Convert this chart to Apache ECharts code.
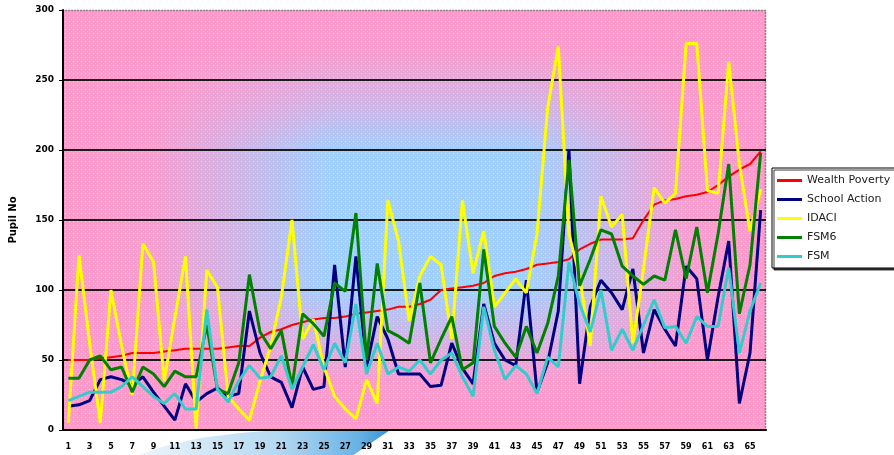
<!DOCTYPE html>
<html>
<head>
<meta charset="utf-8">
<script src="https://cdn.jsdelivr.net/npm/echarts@6/dist/echarts.min.js"></script>
<style>
html, body { margin: 0; padding: 0; background: #fff; }
#chart { width: 894px; height: 455px; }
</style>
</head>
<body>
<div id="chart"></div>
<script>
// Pupil numbers per school, ordered by the Wealth Poverty measure
const categories = [
  '1','2','3','4','5','6','7','8','9','10',
  '11','12','13','14','15','16','17','18','19','20',
  '21','22','23','24','25','26','27','28','29','30',
  '31','32','33','34','35','36','37','38','39','40',
  '41','42','43','44','45','46','47','48','49','50',
  '51','52','53','54','55','56','57','58','59','60',
  '61','62','63','64','65','66'
];

const wealthPoverty = [
  50, 50, 50, 51, 52, 53, 55, 55, 55, 56,
  57, 58, 58, 58, 58, 59, 60, 60, 66, 70,
  72, 75, 77, 79, 80, 80, 81, 83, 84, 85,
  86, 88, 88, 90, 93, 100, 101, 102, 103, 105,
  110, 112, 113, 115, 118, 119, 120, 122, 129, 133,
  136, 136, 136, 137, 150, 161, 164, 165, 167, 168,
  170, 175, 181, 186, 190, 199
];

const schoolAction = [
  17, 18, 21, 36, 38, 36, 32, 38, 27, 17,
  7, 33, 20, 26, 30, 24, 26, 85, 55, 38,
  34, 16, 45, 29, 31, 118, 45, 124, 45, 81,
  65, 40, 40, 40, 31, 32, 62, 44, 33, 90,
  62, 50, 46, 107, 27, 48, 85, 200, 33, 88,
  107, 98, 86, 115, 55, 86, 72, 60, 117, 108,
  50, 95, 135, 19, 55, 157
];

const idaci = [
  5, 125, 62, 5, 100, 60, 25, 133, 120, 35,
  80, 124, 1, 114, 102, 24, 15, 7, 35, 60,
  95, 150, 65, 79, 45, 24, 15, 8, 36, 19,
  164, 135, 78, 110, 124, 118, 65, 164, 112, 142,
  88, 98, 108, 98, 140, 230, 274, 140, 110, 60,
  167, 145, 154, 62, 115, 173, 162, 169, 276, 276,
  171, 169, 263, 190, 142, 172
];

const fsm6 = [
  37, 37, 50, 53, 43, 45, 27, 45, 40, 31,
  42, 38, 38, 75, 29, 26, 48, 111, 70, 58,
  71, 31, 83, 76, 67, 105, 99, 155, 50, 119,
  71, 67, 62, 105, 48, 65, 81, 43, 48, 129,
  74, 62, 52, 74, 55, 76, 110, 193, 103, 122,
  143, 140, 117, 110, 104, 110, 107, 143, 108, 145,
  98, 140, 190, 83, 118, 198
];

const fsm = [
  21, 24, 27, 27, 27, 31, 38, 31, 24, 19,
  26, 15, 15, 86, 29, 20, 35, 46, 37, 38,
  53, 29, 45, 61, 43, 62, 48, 90, 40, 62,
  40, 45, 42, 50, 40, 50, 55, 38, 24, 88,
  57, 36, 46, 40, 26, 52, 45, 120, 90, 70,
  100, 57, 72, 57, 75, 93, 73, 74, 62, 81,
  74, 74, 116, 55, 85, 105
];

const seriesNames = ['Wealth Poverty', 'School Action', 'IDACI', 'FSM6', 'FSM'];
const seriesData = [wealthPoverty, schoolAction, idaci, fsm6, fsm];
const seriesColors = ['#ff0000', '#000080', '#ffff00', '#008000', '#33cccc'];
const seriesWidths = [2, 3, 3, 3, 3];

const yMin = 0, yMax = 300, yStep = 50;

// plot area box
const PX = 62, PY = 10, PW = 704, PH = 420;

const chart = echarts.init(document.getElementById('chart'));

// fine dot texture laid over the fill
const dots = document.createElement('canvas');
dots.width = 4; dots.height = 4;
(function () {
  const c = dots.getContext('2d');
  c.fillStyle = 'rgba(255,255,255,0.45)';
  c.fillRect(1, 1, 1, 1);
  c.fillStyle = 'rgba(255,255,255,0.2)';
  c.fillRect(3, 3, 1, 1);
})();

function linear(x2, y2, stops) {
  return {
    type: 'linear', x: 0, y: 0, x2: x2, y2: y2, global: false,
    colorStops: stops.map(s => ({ offset: s[0], color: s[1] }))
  };
}
const pink = a => 'rgba(255,153,204,' + a + ')';
const plotRect = { x: PX, y: PY, width: PW, height: PH };

const option = {
  animation: false,
  grid: { left: PX, top: PY, width: PW, height: PH },
  xAxis: {
    type: 'category',
    data: categories,
    boundaryGap: true,
    axisLine: { lineStyle: { color: '#000', width: 2 } },
    axisTick: { interval: 0, length: 4, lineStyle: { color: '#000', width: 1 } },
    axisLabel: {
      interval: 1, margin: 13, fontSize: 8, fontWeight: 'bold',
      fontFamily: 'DejaVu Sans', color: '#000'
    },
    splitLine: { show: false }
  },
  yAxis: {
    type: 'value',
    min: yMin, max: yMax, interval: yStep,
    name: 'Pupil No',
    nameLocation: 'middle',
    nameRotate: 90,
    nameGap: 45,
    nameTextStyle: { fontSize: 10, fontWeight: 'bold', fontFamily: 'DejaVu Sans', color: '#000' },
    axisLine: { show: true, lineStyle: { color: '#000', width: 2 } },
    axisTick: { show: true, length: 4, lineStyle: { color: '#000', width: 1 } },
    axisLabel: { margin: 9, fontSize: 9, fontWeight: 'bold', fontFamily: 'DejaVu Sans', color: '#000' },
    splitLine: { showMaxLine: false, lineStyle: { color: '#1a1a1a', width: 2 } }
  },
  legend: {
    orient: 'vertical',
    left: 772, top: 168,
    icon: 'rect',
    itemWidth: 25, itemHeight: 3, itemGap: 6,
    padding: [6, 14, 5, 5],
    backgroundColor: '#fff',
    borderColor: '#000', borderWidth: 1,
    shadowColor: 'rgba(0,0,0,0.75)', shadowOffsetX: 2, shadowOffsetY: 2, shadowBlur: 0,
    textStyle: { fontSize: 11, lineHeight: 13, fontFamily: 'DejaVu Sans', color: '#222' },
    data: seriesNames
  },
  graphic: [
    // light-blue swoosh under the category labels
    {
      type: 'polygon', z: -20, silent: true,
      shape: {
        points: [[135, 456], [165, 446], [200, 438], [240, 433], [290, 429], [340, 427], [396, 426], [352, 456]]
      },
      style: {
        fill: linear(1, 0, [[0, '#eef6fc'], [0.55, '#b4d9f2'], [0.85, '#6ab3e6'], [1, '#2f8fd2']])
      }
    },
    // plot fill: blue centre fading to pink at every edge
    { type: 'rect', z: -10, silent: true, shape: plotRect, style: { fill: '#a0d0ff' } },
    {
      type: 'rect', z: -9, silent: true, shape: plotRect,
      style: {
        fill: linear(1, 0, [
          [0, pink(1)], [0.13, pink(0.92)], [0.26, pink(0.45)], [0.38, pink(0)],
          [0.66, pink(0)], [0.78, pink(0.45)], [0.89, pink(0.92)], [1, pink(1)]
        ])
      }
    },
    {
      type: 'rect', z: -8, silent: true, shape: plotRect,
      style: {
        fill: linear(0, 1, [
          [0, pink(1)], [0.1, pink(0.95)], [0.24, pink(0.45)], [0.34, pink(0)],
          [0.66, pink(0)], [0.77, pink(0.45)], [0.88, pink(0.95)], [1, pink(1)]
        ])
      }
    },
    { type: 'rect', z: -7, silent: true, shape: plotRect, style: { fill: { image: dots, repeat: 'repeat' } } },
    // grey dotted frame on the top and right of the plot
    {
      type: 'polyline', z: -6, silent: true,
      shape: { points: [[PX, PY + 0.5], [PX + PW - 0.5, PY + 0.5], [PX + PW - 0.5, PY + PH]] },
      style: { stroke: '#888', lineWidth: 1.5, lineDash: [2, 1], fill: null }
    }
  ],
  series: seriesNames.map((name, k) => ({
    name: name,
    type: 'line',
    data: seriesData[k],
    symbol: 'none',
    lineStyle: { color: seriesColors[k], width: seriesWidths[k] },
    itemStyle: { color: seriesColors[k] },
    emphasis: { disabled: true }
  }))
};

chart.setOption(option);
</script>
</body>
</html>
